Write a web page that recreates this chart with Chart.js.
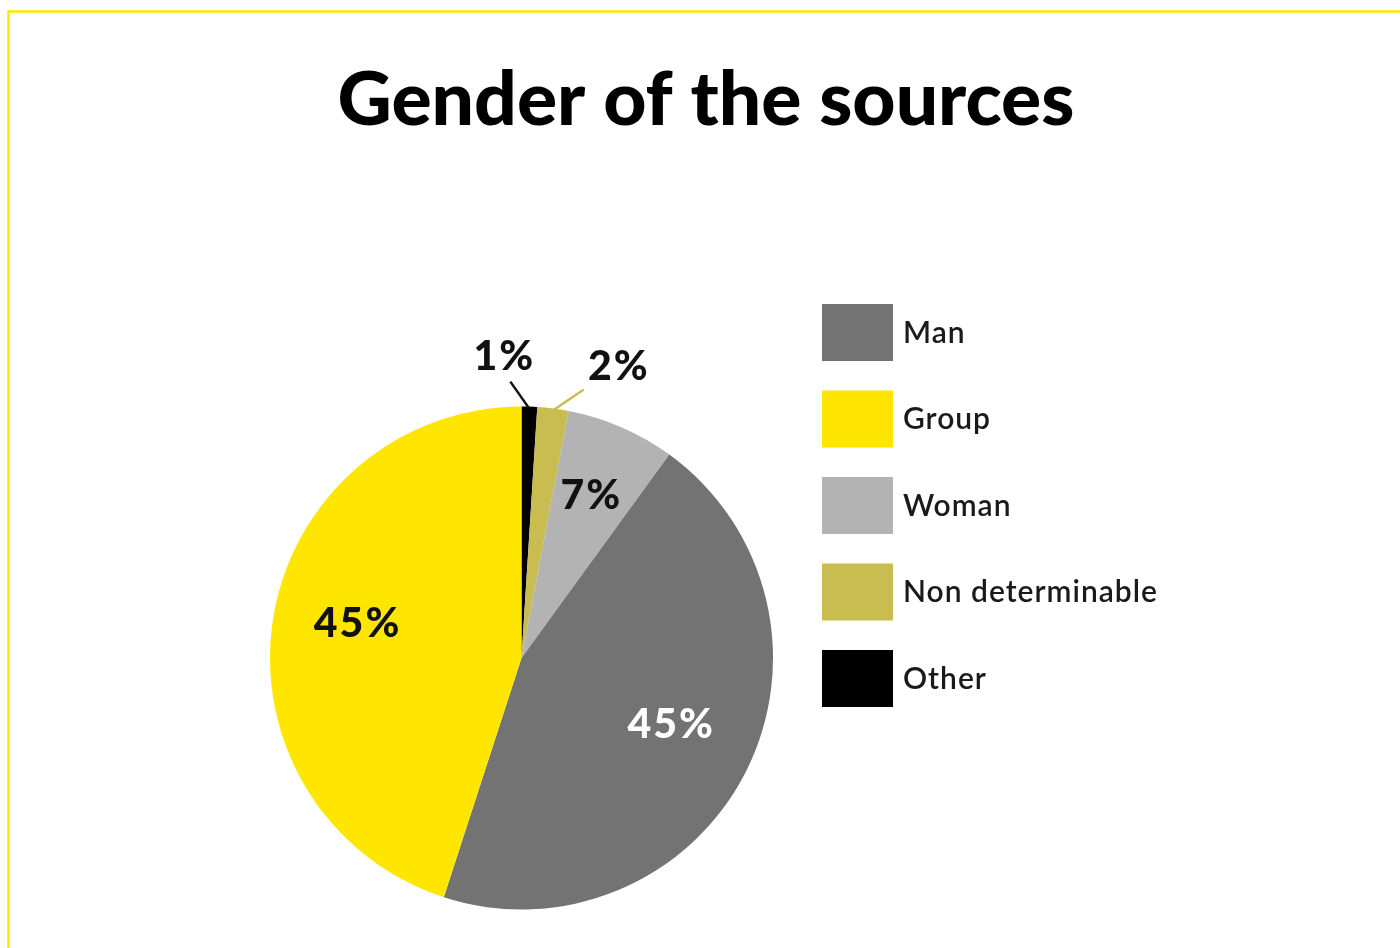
<!DOCTYPE html>
<html>
<head>
<meta charset="utf-8">
<title>Gender of the sources</title>
<script src="https://cdn.jsdelivr.net/npm/chart.js@4/dist/chart.umd.min.js"></script>
<style>
  html, body { margin: 0; padding: 0; background: #ffffff; }
  #wrap { width: 1400px; height: 948px; position: relative; }
  canvas { display: block; }
</style>
</head>
<body>
<div id="wrap"><canvas id="chart" width="1400" height="948"></canvas></div>
<script>
// Slices, clockwise from 12 o'clock
const categories = ['Other', 'Non determinable', 'Woman', 'Man', 'Group'];
const shares = [1, 2, 7, 45, 45];
// Order of entries in the key on the right
const legendOrder = ['Man', 'Group', 'Woman', 'Non determinable', 'Other'];
const sliceColors = ['#000000', '#C9BD52', '#B3B3B3', '#737373', '#FFE600'];
const titleText = 'Gender of the sources';

const FONT = 'Lato, "Open Sans", sans-serif';

// Value label styling per slice: inside labels sit on the slice bisector,
// outside labels get a short leader line.
const labelStyle = {
  'Other':            { outside: true, lead: [-19, -27], text: [-6, -25], color: '#111111', line: '#111111' },
  'Non determinable': { outside: true, lead: [31, -21], text: [35, -23], color: '#111111', line: '#C9BD52' },
  'Woman':            { outside: false, r: 0.70, shift: [0, -1], color: '#111111' },
  'Man':              { outside: false, r: 0.65, shift: [4, -7], color: '#FFFFFF' },
  'Group':            { outside: false, r: 0.66, shift: [0, -8], color: '#111111' }
};

const decorPlugin = {
  id: 'decor',
  afterDraw(chart) {
    const ctx = chart.ctx;
    const ds = chart.data.datasets[0];
    const meta = chart.getDatasetMeta(0);
    ctx.save();

    // frame
    ctx.strokeStyle = '#FFE600';
    ctx.lineWidth = 2.5;
    ctx.beginPath();
    ctx.moveTo(8.5, 948);
    ctx.lineTo(8.5, 11.5);
    ctx.lineTo(1400, 11.5);
    ctx.stroke();

    // title
    ctx.fillStyle = '#000000';
    ctx.textAlign = 'center';
    ctx.textBaseline = 'alphabetic';
    let ts = 72;
    ctx.font = '900 ' + ts + 'px ' + FONT;
    const w = ctx.measureText(titleText).width;
    ts = ts * 737 / w;
    ctx.font = '900 ' + ts + 'px ' + FONT;
    ctx.fillText(titleText, 706, 125);

    // value labels
    ctx.letterSpacing = '2px';
    meta.data.forEach((arc, i) => {
      const name = chart.data.labels[i];
      const st = labelStyle[name];
      const p = arc.getProps(['x', 'y', 'startAngle', 'endAngle', 'outerRadius']);
      const mid = (p.startAngle + p.endAngle) / 2;
      const txt = ds.data[i] + '%';
      ctx.font = '900 41px ' + FONT;
      ctx.textAlign = 'center';
      ctx.textBaseline = 'middle';
      if (st.outside) {
        const sx = p.x + Math.cos(mid) * (p.outerRadius - 2);
        const sy = p.y + Math.sin(mid) * (p.outerRadius - 2);
        const ex = sx + st.lead[0];
        const ey = sy + st.lead[1];
        ctx.strokeStyle = st.line;
        ctx.lineWidth = 2.5;
        ctx.beginPath();
        ctx.moveTo(sx, sy);
        ctx.lineTo(ex, ey);
        ctx.stroke();
        ctx.fillStyle = st.color;
        ctx.fillText(txt, ex + st.text[0], ey + st.text[1]);
      } else {
        const r = p.outerRadius * st.r;
        ctx.fillStyle = st.color;
        ctx.fillText(txt, p.x + Math.cos(mid) * r + st.shift[0], p.y + Math.sin(mid) * r + st.shift[1]);
      }
    });

    // key
    ctx.letterSpacing = '1px';
    legendOrder.forEach((name, k) => {
      const i = chart.data.labels.indexOf(name);
      const top = 304 + k * 86.5;
      ctx.fillStyle = ds.backgroundColor[i];
      ctx.fillRect(822, top, 71, 57);
      ctx.fillStyle = '#1a1a1a';
      ctx.font = '600 30px ' + FONT;
      ctx.textAlign = 'left';
      ctx.textBaseline = 'middle';
      ctx.fillText(name, 903, top + 29);
    });

    ctx.restore();
  }
};

new Chart(document.getElementById('chart'), {
  type: 'pie',
  data: {
    labels: categories,
    datasets: [{
      data: shares,
      backgroundColor: sliceColors,
      borderWidth: 0
    }]
  },
  options: {
    responsive: false,
    devicePixelRatio: 1,
    animation: false,
    layout: { padding: { left: 270, right: 627, top: 406, bottom: 38 } },
    plugins: {
      legend: { display: false },
      title: { display: false },
      tooltip: { enabled: false }
    }
  },
  plugins: [decorPlugin]
});
</script>
</body>
</html>
